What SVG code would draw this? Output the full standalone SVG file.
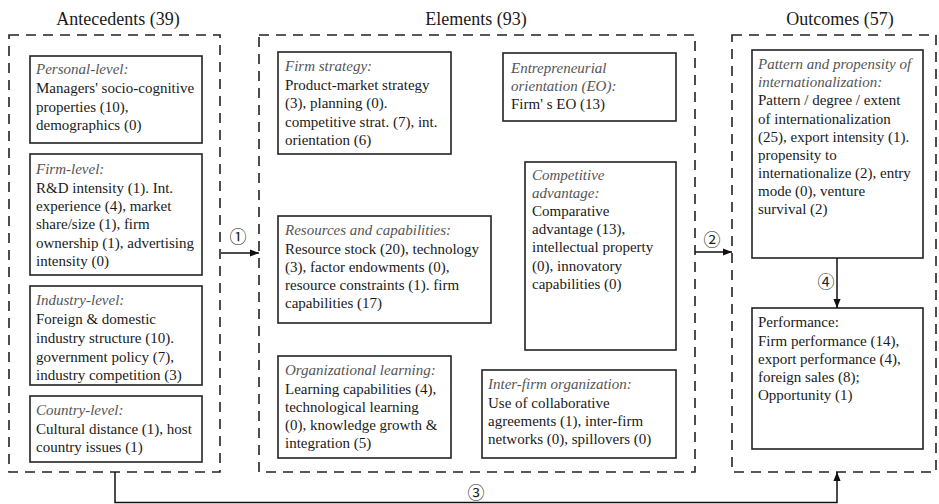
<svg xmlns="http://www.w3.org/2000/svg" width="939" height="504" viewBox="0 0 939 504" font-family="'Liberation Serif', Tinos, 'Times New Roman', 'DejaVu Serif', serif">
  <style>
    .title { font-family: 'Liberation Serif', Tinos, 'Times New Roman', 'DejaVu Serif', serif; font-size: 18px; fill: #1a1a1a; text-anchor: middle; }
    .group { fill: none; stroke: #222; stroke-width: 1.6; stroke-dasharray: 10 7; }
    .box { fill: #fff; stroke: #222; stroke-width: 1.6; }
    .t { font-family: 'Liberation Serif', Tinos, 'Times New Roman', 'DejaVu Serif', serif; font-size: 15px; fill: #1a1a1a; }
    .h { font-style: italic; fill: #555; }
    .link { fill: none; stroke: #111; stroke-width: 1.5; }
    .num { font-family: 'Noto Sans CJK SC', 'DejaVu Sans', sans-serif; font-size: 17px; fill: #222; text-anchor: middle; }
  </style>
  <defs>
    <marker id="arrow" viewBox="0 0 10 10" refX="10" refY="5" markerWidth="9" markerHeight="9" markerUnits="userSpaceOnUse" orient="auto">
      <path d="M0,1 L10,5 L0,9 z" fill="#111"/>
    </marker>
  </defs>

  <rect width="939" height="504" fill="#fff"/>

  <!-- Column headings -->
  <text class="title" x="118" y="25">Antecedents (39)</text>
  <text class="title" x="476" y="25">Elements (93)</text>
  <text class="title" x="840" y="25">Outcomes (57)</text>

  <!-- Dashed column frames -->
  <g id="antecedents">
    <rect class="group" x="9" y="35" width="211" height="437"/>
  </g>
  <g id="elements">
    <rect class="group" x="259" y="35" width="436" height="437"/>
  </g>
  <g id="outcomes">
    <rect class="group" x="732" y="35" width="204" height="437"/>
  </g>

  <!-- Antecedents -->
  <g id="personal-level">
    <rect class="box" x="30" y="56" width="172" height="87"/>
    <text class="t" x="36">
      <tspan class="h" x="36" y="74">Personal-level:</tspan>
      <tspan x="36" y="93">Managers' socio-cognitive</tspan>
      <tspan x="36" y="111.5">properties (10),</tspan>
      <tspan x="36" y="130">demographics (0)</tspan>
    </text>
  </g>
  <g id="firm-level">
    <rect class="box" x="30" y="154" width="172" height="121"/>
    <text class="t">
      <tspan class="h" x="36" y="174">Firm-level:</tspan>
      <tspan x="36" y="192.5">R&amp;D intensity (1). Int.</tspan>
      <tspan x="36" y="211">experience (4), market</tspan>
      <tspan x="36" y="229">share/size (1), firm</tspan>
      <tspan x="36" y="247.5">ownership (1), advertising</tspan>
      <tspan x="36" y="265.5">intensity (0)</tspan>
    </text>
  </g>
  <g id="industry-level">
    <rect class="box" x="30" y="286" width="172" height="99"/>
    <text class="t">
      <tspan class="h" x="36" y="305">Industry-level:</tspan>
      <tspan x="36" y="324">Foreign &amp; domestic</tspan>
      <tspan x="36" y="343">industry structure (10).</tspan>
      <tspan x="36" y="361.5">government policy (7),</tspan>
      <tspan x="36" y="380">industry competition (3)</tspan>
    </text>
  </g>
  <g id="country-level">
    <rect class="box" x="30" y="396" width="172" height="66"/>
    <text class="t">
      <tspan class="h" x="36" y="415">Country-level:</tspan>
      <tspan x="36" y="434">Cultural distance (1), host</tspan>
      <tspan x="36" y="452">country issues (1)</tspan>
    </text>
  </g>

  <!-- Elements -->
  <g id="firm-strategy">
    <rect class="box" x="278" y="52" width="173" height="102"/>
    <text class="t">
      <tspan class="h" x="285" y="71">Firm strategy:</tspan>
      <tspan x="285" y="89.5">Product-market strategy</tspan>
      <tspan x="285" y="108">(3), planning (0).</tspan>
      <tspan x="285" y="126.5">competitive strat. (7), int.</tspan>
      <tspan x="285" y="144.5">orientation (6)</tspan>
    </text>
  </g>
  <g id="entrepreneurial-orientation">
    <rect class="box" x="503" y="53" width="173" height="68"/>
    <text class="t">
      <tspan class="h" x="511" y="73">Entrepreneurial</tspan>
      <tspan class="h" x="511" y="91">orientation (EO):</tspan>
      <tspan x="511" y="109">Firm' s EO (13)</tspan>
    </text>
  </g>
  <g id="competitive-advantage">
    <rect class="box" x="525" y="162" width="151" height="188"/>
    <text class="t">
      <tspan class="h" x="532" y="180">Competitive</tspan>
      <tspan class="h" x="532" y="198">advantage:</tspan>
      <tspan x="532" y="216">Comparative</tspan>
      <tspan x="532" y="234">advantage (13),</tspan>
      <tspan x="532" y="252">intellectual property</tspan>
      <tspan x="532" y="271">(0), innovatory</tspan>
      <tspan x="532" y="289">capabilities (0)</tspan>
    </text>
  </g>
  <g id="resources-capabilities">
    <rect class="box" x="278" y="216" width="213" height="107"/>
    <text class="t">
      <tspan class="h" x="285" y="235">Resources and capabilities:</tspan>
      <tspan x="285" y="253.5">Resource stock (20), technology</tspan>
      <tspan x="285" y="271.5">(3), factor endowments (0),</tspan>
      <tspan x="285" y="289.5">resource constraints (1). firm</tspan>
      <tspan x="285" y="307.5">capabilities (17)</tspan>
    </text>
  </g>
  <g id="organizational-learning">
    <rect class="box" x="278" y="356" width="173" height="102"/>
    <text class="t">
      <tspan class="h" x="285" y="375">Organizational learning:</tspan>
      <tspan x="285" y="393.5">Learning capabilities (4),</tspan>
      <tspan x="285" y="412">technological learning</tspan>
      <tspan x="285" y="430">(0), knowledge growth &amp;</tspan>
      <tspan x="285" y="448">integration (5)</tspan>
    </text>
  </g>
  <g id="inter-firm-organization">
    <rect class="box" x="482" y="370" width="194" height="88"/>
    <text class="t">
      <tspan class="h" x="488" y="389">Inter-firm organization:</tspan>
      <tspan x="488" y="407.5">Use of collaborative</tspan>
      <tspan x="488" y="425.5">agreements (1), inter-firm</tspan>
      <tspan x="488" y="443.5">networks (0), spillovers (0)</tspan>
    </text>
  </g>

  <!-- Outcomes -->
  <g id="internationalization">
    <rect class="box" x="752" y="50" width="171" height="208"/>
    <text class="t">
      <tspan class="h" x="758" y="68.5">Pattern and propensity of</tspan>
      <tspan class="h" x="758" y="87">internationalization:</tspan>
      <tspan x="758" y="105">Pattern / degree / extent</tspan>
      <tspan x="758" y="123.5">of internationalization</tspan>
      <tspan x="758" y="142">(25), export intensity (1).</tspan>
      <tspan x="758" y="160">propensity to</tspan>
      <tspan x="758" y="178">internationalize (2), entry</tspan>
      <tspan x="758" y="196">mode (0), venture</tspan>
      <tspan x="758" y="214">survival (2)</tspan>
    </text>
  </g>
  <g id="performance">
    <rect class="box" x="752" y="308" width="171" height="141"/>
    <text class="t">
      <tspan x="758" y="327">Performance:</tspan>
      <tspan x="758" y="346">Firm performance (14),</tspan>
      <tspan x="758" y="364">export performance (4),</tspan>
      <tspan x="758" y="382">foreign sales (8);</tspan>
      <tspan x="758" y="400">Opportunity (1)</tspan>
    </text>
  </g>

  <!-- Connectors -->
  <g id="connectors">
    <path class="link" d="M221,253 H259" marker-end="url(#arrow)"/>
    <text class="num" x="238" y="243">①</text>
    <path class="link" d="M695,252 H732" marker-end="url(#arrow)"/>
    <text class="num" x="712" y="246">②</text>
    <path class="link" d="M837,258 V308" marker-end="url(#arrow)"/>
    <text class="num" x="826" y="288">④</text>
    <path class="link" d="M115,472 V502.5 H837 V472" marker-end="url(#arrow)"/>
    <text class="num" x="476" y="499">③</text>
  </g>
</svg>
